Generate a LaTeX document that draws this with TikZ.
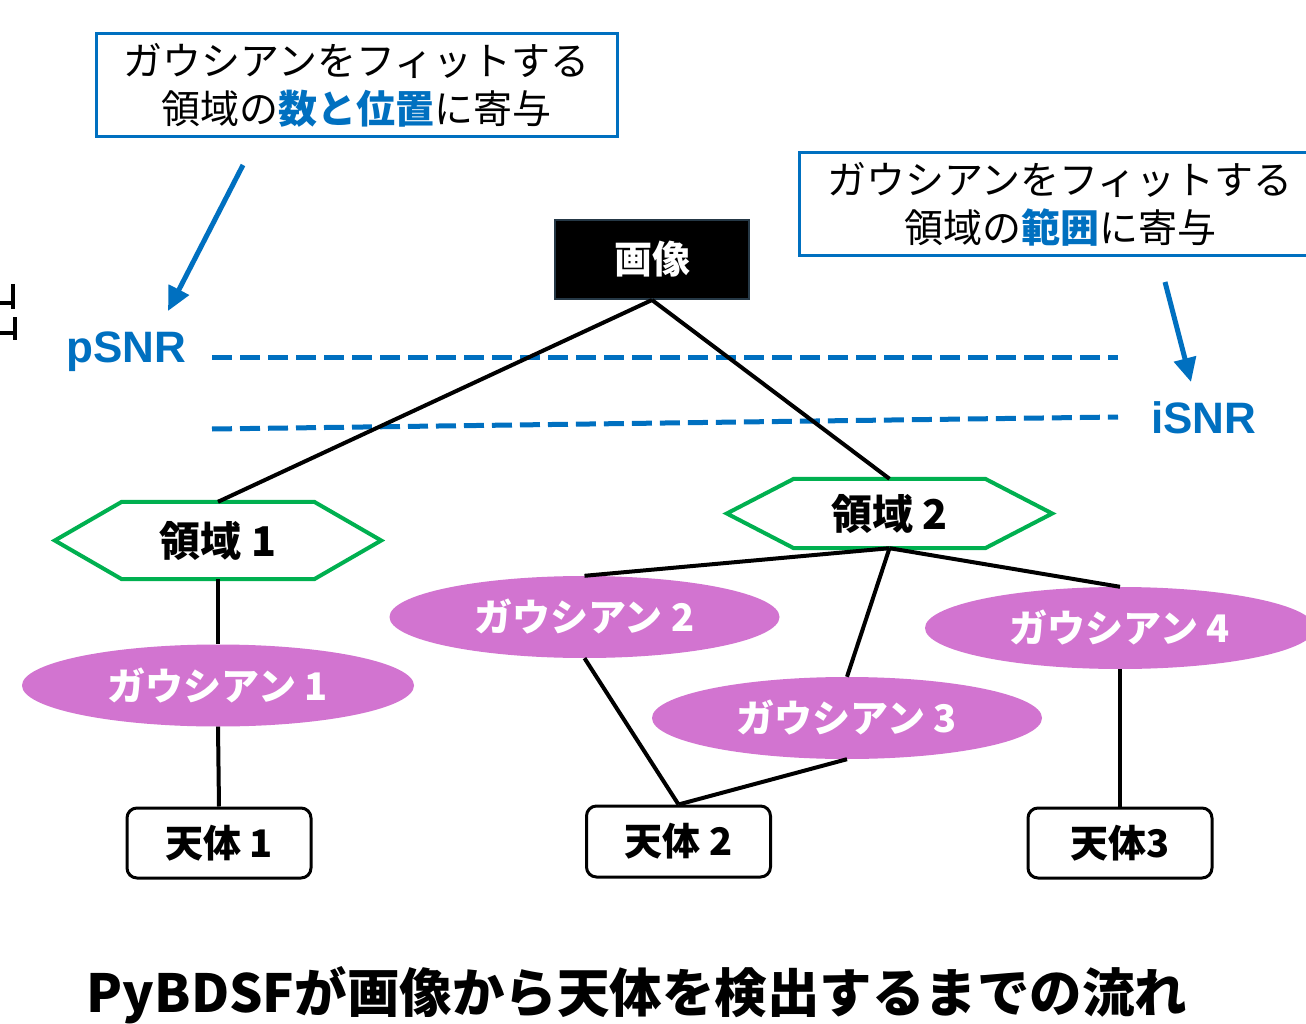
\documentclass[tikz,border=0pt]{standalone}
\usepackage{fontspec}
\newfontfamily\jp{Noto Sans CJK JP}
\newfontfamily\lat{Liberation Sans}
\usetikzlibrary{shapes.geometric,calc,arrows.meta}
\definecolor{myblue}{HTML}{0070C0}
\definecolor{mygreen}{HTML}{00B050}
\definecolor{orchidfill}{HTML}{D274D0}
\definecolor{imgborder}{HTML}{253846}
\tikzset{
  notebox/.style={draw=myblue, line width=3pt, fill=white, align=center, inner sep=0pt,
    minimum height=103pt, font=\jp\fontsize{39}{48}\selectfont},
  imgbox/.style={draw=imgborder, line width=2pt, fill=black, text=white, inner sep=0pt,
    minimum width=194pt, minimum height=79pt, font=\jp\bfseries\fontsize{38}{44}\selectfont},
  regionbox/.style={inner sep=0pt, font=\jp\bfseries\fontsize{41}{46}\selectfont},
  hexa/.style={draw=mygreen, line width=4pt, line join=miter},
  gauss/.style={ellipse, fill=orchidfill, text=white, inner sep=0pt,
    minimum width=390pt, minimum height=82pt, font=\jp\bfseries\fontsize{38}{44}\selectfont},
  objbox/.style={draw=black, line width=3pt, rounded corners=10pt, fill=white, inner sep=0pt,
    minimum width=184pt, minimum height=70pt, font=\jp\bfseries\fontsize{38}{44}\selectfont},
  conn/.style={draw=black, line width=4pt},
  snrline/.style={draw=myblue, line width=5pt, dash pattern=on 20pt off 8pt},
  snrlabel/.style={text=myblue, inner sep=0pt, font=\lat\bfseries\fontsize{44}{50}\selectfont},
  barrow/.style={draw=myblue, line width=5pt, -{Triangle[length=24pt,width=22pt]}},
}
\begin{document}
\begin{tikzpicture}[x=1pt,y=-1pt]
\useasboundingbox (0,0) rectangle (1306,1024);
\clip (0,0) rectangle (1306,1024);
\fill[white] (0,0) rectangle (1306,1024);

% cropped fragment at left edge
\draw[line width=3.5pt] (0,303) -- (13,303) (13,284) -- (13,309);
\draw[line width=3.5pt] (0,333) -- (15,333) (15,317) -- (15,340);

% notes
\node[notebox, minimum width=521pt] (note1) at (356.5,85.5)
  {ガウシアンをフィットする\\領域の{\bfseries\color{myblue}数と位置}に寄与};
\node[notebox, minimum width=522pt] (note2) at (1060,204)
  {ガウシアンをフィットする\\領域の{\bfseries\color{myblue}範囲}に寄与};

% arrows
\coordinate (a1s) at (243,165);
\coordinate (a1e) at (168,311);
\coordinate (a2s) at (1165,282);
\coordinate (a2e) at (1191,382);
\draw[barrow] (a1s) -- (a1e);
\draw[barrow] (a2s) -- (a2e);

% SNR lines
\node[snrlabel, anchor=west] (psnr) at (66,352) {pSNR};
\node[snrlabel, anchor=west] (isnr) at (1151,418) {iSNR};
\coordinate (p1) at (212,357);
\coordinate (p2) at (1118,357);
\coordinate (i1) at (212,429);
\coordinate (i2) at (1118,417);
\draw[snrline] (p1) -- (p2);
\draw[snrline] (i1) -- (i2);

% image
\node[imgbox] (img) at (652,259.5) {画像};

% regions
\node[regionbox, minimum width=326pt, minimum height=77pt] (r1) at (218,540.5) {領域 1};
\node[regionbox, minimum width=325pt, minimum height=69pt] (r2) at (889.5,513.5) {領域 2};
\foreach \r in {r1,r2}{
  \draw[hexa] (\r.west) -- ($(\r.north west)+(67,0)$) -- ($(\r.north east)+(-67,0)$)
    -- (\r.east) -- ($(\r.south east)+(-67,0)$) -- ($(\r.south west)+(67,0)$) -- cycle;
}

% gaussians
\node[gauss, minimum width=392pt] (g1) at (218,685.5) {ガウシアン 1};
\node[gauss] (g2) at (584.5,617) {ガウシアン 2};
\node[gauss] (g3) at (847,718) {ガウシアン 3};
\node[gauss] (g4) at (1120,628) {ガウシアン 4};

% objects
\node[objbox] (o1) at (219,843) {天体 1};
\node[objbox, minimum height=71pt] (o2) at (678.5,841.5) {天体 2};
\node[objbox] (o3) at (1120,843) {天体3};

% connectors
\draw[conn] (img.south) -- (r1.north);
\draw[conn] (img.south) -- (r2.north);
\draw[conn] (r1.south) -- (g1.north);
\draw[conn] (g1.south) -- (o1.north);
\draw[conn] (r2.south) -- (g2.north);
\draw[conn] (r2.south) -- (g3.north);
\draw[conn] (r2.south) -- (g4.north);
\draw[conn] (g2.south) -- (o2.north);
\draw[conn] (g3.south) -- (o2.north);
\draw[conn] (g4.south) -- (o3.north);

% caption
\node[inner sep=0pt, font=\jp\bfseries\fontsize{52.5}{60}\selectfont] (cap) at (637,995)
  {PyBDSFが画像から天体を検出するまでの流れ};
\end{tikzpicture}
\end{document}
